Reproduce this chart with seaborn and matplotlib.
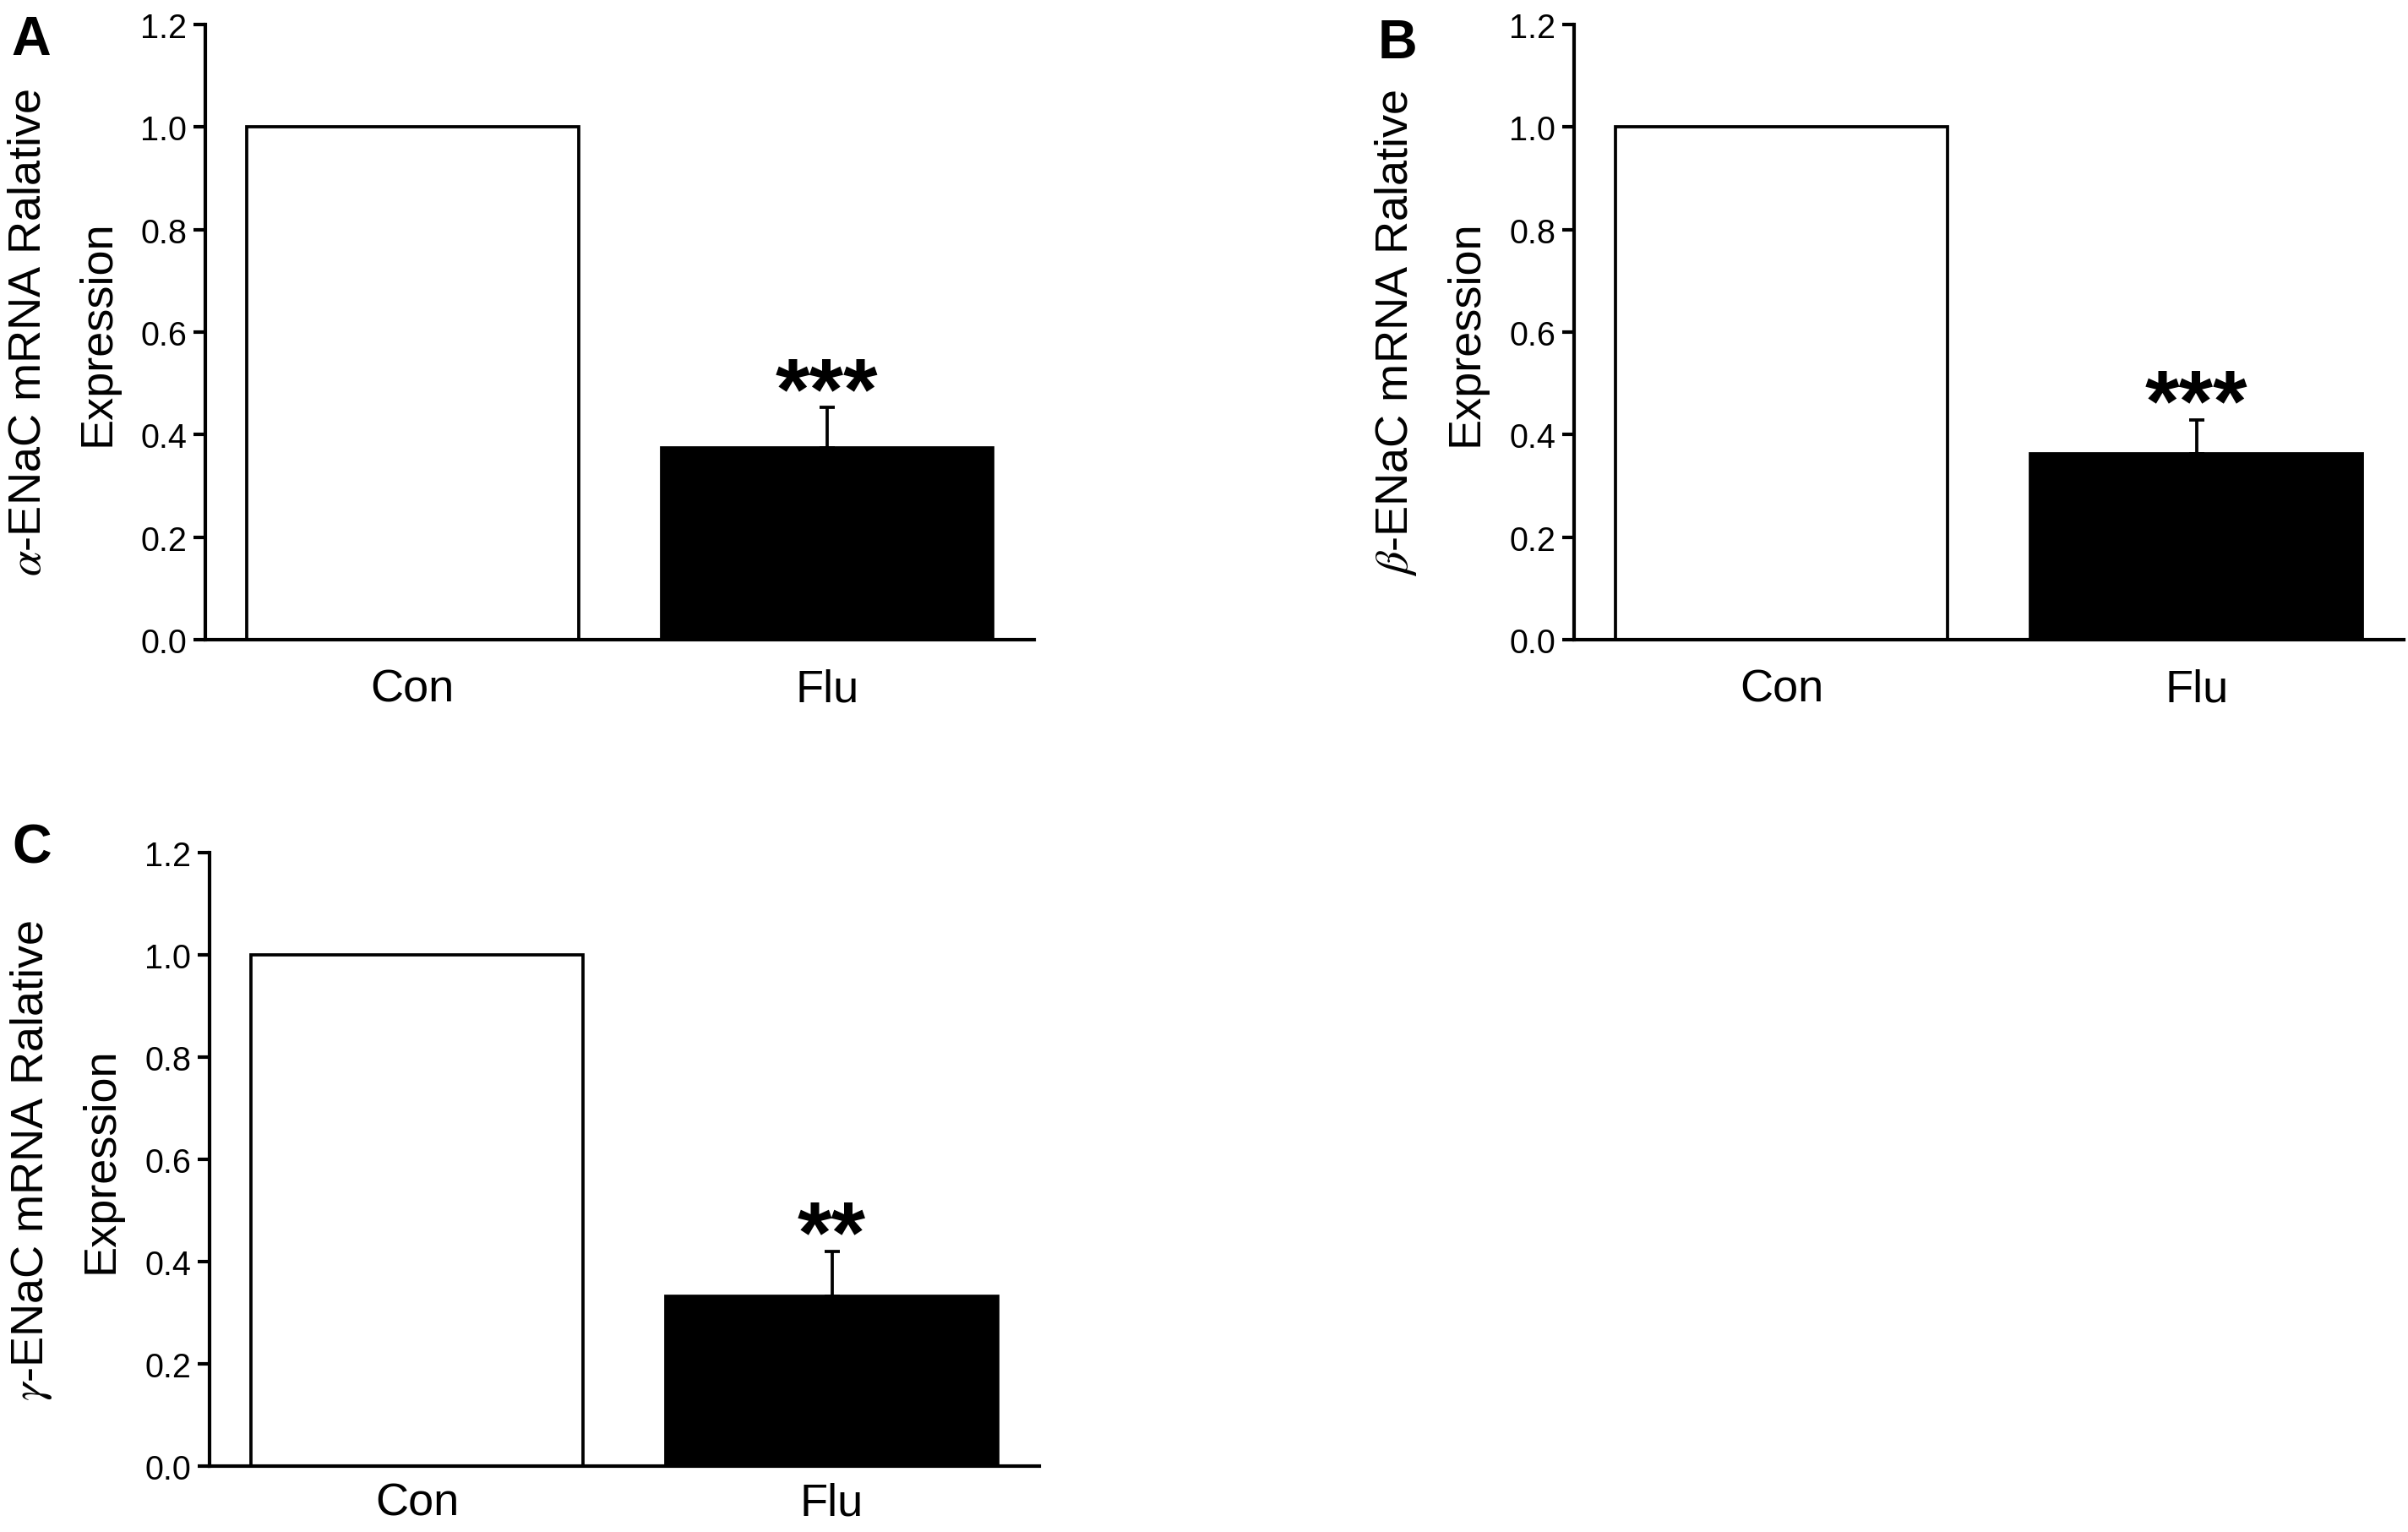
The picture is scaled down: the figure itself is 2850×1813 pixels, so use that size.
import numpy as np
import matplotlib
matplotlib.use("Agg")
import matplotlib.pyplot as plt
import seaborn as sns

groups = ["Con", "Flu"]
alpha_mean = [1.0, 0.375]
alpha_err = [0.0, 0.078]
beta_mean = [1.0, 0.363]
beta_err = [0.0, 0.066]
gamma_mean = [1.0, 0.333]
gamma_err = [0.0, 0.087]
stars = ["***", "***", "**"]
ylabels = [r"$\alpha$-ENaC mRNA Ralative" + "\nExpression",
           r"$\beta$-ENaC mRNA Ralative" + "\nExpression",
           r"$\gamma$-ENaC mRNA Ralative" + "\nExpression"]
yticks = [0.0, 0.2, 0.4, 0.6, 0.8, 1.0, 1.2]

sns.set_style("ticks")
plt.rcParams["font.family"] = ["Liberation Sans", "DejaVu Sans"]
plt.rcParams["mathtext.fontset"] = "stix"
for key in ["text.color", "axes.labelcolor", "xtick.color", "ytick.color", "axes.edgecolor"]:
    plt.rcParams[key] = "black"

fig = plt.figure(figsize=(19, 12.0933), dpi=150)
positions = [[0.0853, 0.582, 0.3442, 0.4015],
             [0.6537, 0.582, 0.3446, 0.4015],
             [0.0870, 0.043, 0.3446, 0.4002]]
xpads = [16, 16, 9]

panels = [(alpha_mean, alpha_err), (beta_mean, beta_err), (gamma_mean, gamma_err)]
for k, (means, errs) in enumerate(panels):
    ax = fig.add_axes(positions[k])
    sns.barplot(x=groups, y=means, hue=groups, palette=["white", "black"],
                edgecolor="black", linewidth=1.8, width=0.8, legend=False,
                errorbar=None, ax=ax)
    flu = ax.patches[1]
    xc = flu.get_x() + flu.get_width() / 2
    ax.errorbar([xc], [means[1]], yerr=[[0], [errs[1]]], fmt="none",
                ecolor="black", elinewidth=1.8, capsize=4.3, capthick=1.8)
    ax.annotate(stars[k], (xc, means[1] + errs[1]), xytext=(0, -6),
                textcoords="offset points", ha="center", va="baseline",
                fontsize=50, fontweight="bold")
    ax.set_xlim(-0.5, 1.5)
    ax.set_ylim(0, 1.2)
    ax.set_yticks(yticks)
    ax.set_yticklabels([f"{t:.1f}" for t in yticks], fontsize=19)
    ax.set_xticks([0, 1])
    ax.set_xticklabels(groups, fontsize=26)
    ax.tick_params(axis="x", length=0, pad=xpads[k])
    ax.tick_params(axis="y", length=6.5, width=2.0, pad=4)
    for s in ["top", "right"]:
        ax.spines[s].set_visible(False)
    for s in ["left", "bottom"]:
        ax.spines[s].set_linewidth(2.0)
    ax.set_ylabel(ylabels[k], fontsize=26, linespacing=1.8)
    ax.yaxis.set_label_coords(-0.105, 0.5)

fig.text(0.0046, 0.990, "A", fontsize=31, fontweight="bold", va="top")
fig.text(0.5723, 0.988, "B", fontsize=31, fontweight="bold", va="top")
fig.text(0.0050, 0.463, "C", fontsize=31, fontweight="bold", va="top")

fig.savefig("out.png", dpi=150, facecolor="white")
